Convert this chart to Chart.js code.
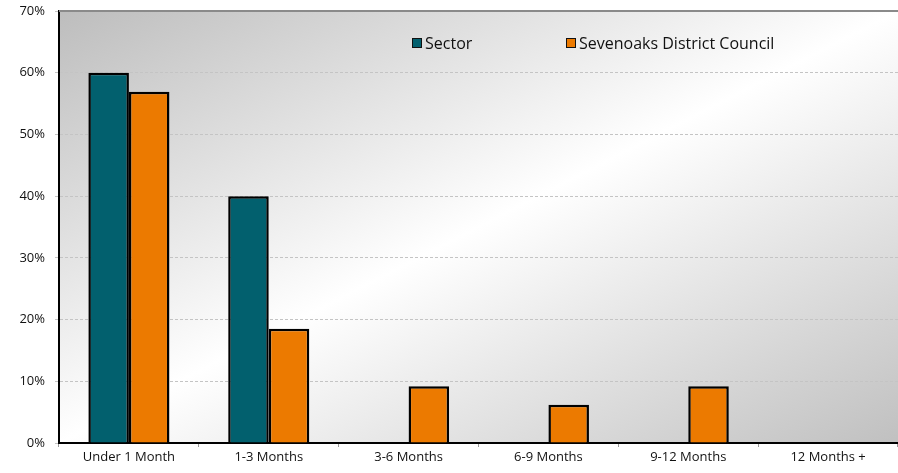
<!DOCTYPE html>
<html>
<head>
<meta charset="utf-8">
<script src="https://cdn.jsdelivr.net/npm/chart.js@4.4.0/dist/chart.umd.min.js"></script>
<style>
  html, body { margin: 0; padding: 0; background: #fff; }
  #wrap { position: relative; width: 898px; height: 473px; }
  #legend { position: absolute; top: 32px; left: 0; font-family: "Open Sans", sans-serif; font-size: 16px; color: #111; }
  #legend .item { position: absolute; white-space: nowrap; display: flex; align-items: center; }
  #legend .box { width: 8px; height: 8px; border: 1.5px solid #111; margin-right: 3px; }
</style>
</head>
<body>
<div id="wrap">
  <canvas id="myChart" width="898" height="473"></canvas>
  <div id="legend"></div>
</div>
<script>
// datos del gráfico
const categorias = ['Under 1 Month', '1-3 Months', '3-6 Months', '6-9 Months', '9-12 Months', '12 Months +'];
const sector = [60, 40, 0, 0, 0, 0];
const sevenoaks = [56.9, 18.5, 9.2, 6.2, 9.2, 0];
const ticksY = [0, 10, 20, 30, 40, 50, 60, 70];

// fondo degradado (diagonal en el rectángulo) y línea superior del área
const fondo = {
  id: 'fondo',
  beforeDraw(chart) {
    const { ctx, chartArea: a } = chart;
    const w = a.right - a.left, h = a.bottom - a.top;
    const cx = a.left + w / 2, cy = a.top + h / 2;
    const len = Math.hypot(w, h);
    const ux = h / len, uy = w / len;
    const half = (w / 2) * ux + (h / 2) * uy;
    const g = ctx.createLinearGradient(cx - half * ux, cy - half * uy, cx + half * ux, cy + half * uy);
    g.addColorStop(0, '#bdbdbd');
    g.addColorStop(0.5, '#ffffff');
    g.addColorStop(1, '#c0c0c0');
    ctx.save();
    ctx.fillStyle = g;
    ctx.fillRect(a.left, a.top, w, h);
    ctx.restore();
  },
  afterDraw(chart) {
    const { ctx, chartArea: a } = chart;
    ctx.save();
    ctx.strokeStyle = '#8a8a8a';
    ctx.lineWidth = 2;
    ctx.beginPath();
    ctx.moveTo(a.left, a.top);
    ctx.lineTo(a.right, a.top);
    ctx.stroke();
    ctx.restore();
  }
};

const ctx = document.getElementById('myChart').getContext('2d');
const myChart = new Chart(ctx, {
  type: 'bar',
  data: {
    labels: categorias,
    datasets: [{
      label: 'Sector',
      data: sector,
      backgroundColor: '#02606e',
      borderColor: '#000',
      borderWidth: 2.5,
      borderSkipped: 'bottom'
    }, {
      label: 'Sevenoaks District Council',
      data: sevenoaks,
      backgroundColor: '#ec7a00',
      borderColor: '#000',
      borderWidth: 2.5,
      borderSkipped: 'bottom'
    }]
  },
  options: {
    responsive: false,
    animation: false,
    devicePixelRatio: 1,
    layout: { padding: { top: 11, right: 0, left: 0, bottom: 0 } },
    datasets: { bar: { categoryPercentage: 0.58, barPercentage: 1 } },
    plugins: { legend: { display: false }, tooltip: { enabled: false } },
    scales: {
      x: {
        afterFit: s => { s.height = 30; s.paddingLeft = 0; s.paddingRight = 0; },
        grid: { offset: true, drawOnChartArea: false, tickLength: 4, color: '#999' },
        border: { color: '#000', width: 2 },
        ticks: { color: '#111', font: { family: 'Open Sans', size: 13 }, padding: 2 }
      },
      y: {
        min: 0,
        max: 70,
        afterFit: s => { s.width = 59; s.paddingTop = 0; s.paddingBottom = 0; },
        afterBuildTicks: s => { s.ticks = ticksY.map(v => ({ value: v })); },
        grid: { color: '#c4c4c4', tickLength: 4, drawTicks: true },
        border: { color: '#000', width: 2, dash: [3, 2] },
        ticks: {
          color: '#111',
          font: { family: 'Open Sans', size: 13 },
          padding: 10,
          callback: v => v + '%'
        }
      }
    }
  },
  plugins: [fondo]
});

// leyenda en HTML
const posLeyenda = [412, 566];
const leyenda = document.getElementById('legend');
myChart.data.datasets.forEach((ds, i) => {
  const item = document.createElement('div');
  item.className = 'item';
  item.style.left = posLeyenda[i] + 'px';
  item.innerHTML = '<span class="box" style="background:' + ds.backgroundColor + '"></span>' + ds.label;
  leyenda.appendChild(item);
});
</script>
</body>
</html>
